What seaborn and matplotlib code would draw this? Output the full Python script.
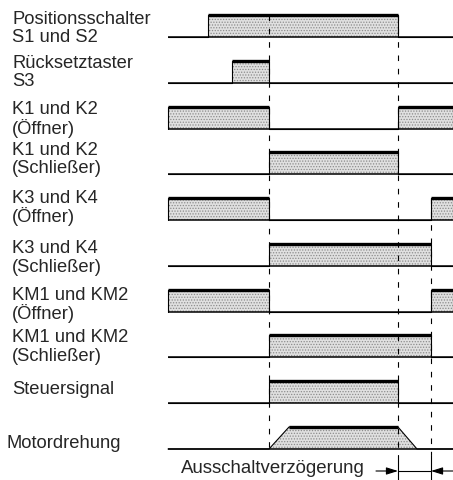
import matplotlib
matplotlib.use("Agg")
import matplotlib.pyplot as plt
import seaborn as sns
import pandas as pd
import numpy as np

# ---------------- data ----------------
labels = [
    "Positionsschalter\nS1 und S2",
    "Rücksetztaster\nS3",
    "K1 und K2\n(Öffner)",
    "K1 und K2\n(Schließer)",
    "K3 und K4\n(Öffner)",
    "K3 und K4\n(Schließer)",
    "KM1 und KM2\n(Öffner)",
    "KM1 und KM2\n(Schließer)",
    "Steuersignal",
    "Motordrehung",
]
t_end = 285
# switching times (time units) for each signal: lists of (on, off)
s1s2_on = [(40, 230)]
s3_on = [(64, 101)]
k1_nc_on = [(0, 101), (230, 285)]
k1_no_on = [(101, 230)]
k3_nc_on = [(0, 101), (263, 285)]
k3_no_on = [(101, 263)]
km_nc_on = [(0, 101), (263, 285)]
km_no_on = [(101, 263)]
steuer_on = [(101, 230)]
motor_t = [0, 101, 121, 230, 249, 285]
motor_level = [0, 0, 1, 1, 0, 0]
event_times = [101, 230, 263]
delay_label = "Ausschaltverzögerung"

pulse_sets = [s1s2_on, s3_on, k1_nc_on, k1_no_on, k3_nc_on,
              k3_no_on, km_nc_on, km_no_on, steuer_on]

# ---------------- layout ----------------
W, H = 453, 481
x0 = 168  # pixel where the time axis starts
row_base = [38, 84, 130, 175, 221, 267, 313, 358, 404, 450]
amp = 22
label_y = [(19, 38), (63, 81), (109.5, 129), (151, 169), (199, 217),
           (249, 268), (296, 314), (338, 357), (389.5,), (444,)]
label_x = [12, 12, 12, 12, 12, 12, 12, 12, 12, 6.5]

sns.set_theme(style="white")
plt.rcParams["font.family"] = ["Liberation Sans", "DejaVu Sans"]
plt.rcParams["hatch.linewidth"] = 0.6

fig = plt.figure(figsize=(W / 100, H / 100), dpi=100)
ax = fig.add_axes([0, 0, 1, 1])
ax.set_xlim(-x0, W - x0)
ax.set_ylim(H, 0)
ax.axis("off")

fill_kw = dict(facecolor="#e0e0e0", edgecolor="#8c8c8c", hatch="......", linewidth=0)

def pulses_to_wave(pulses):
    ts, lv = [0], [0]
    for on, off in pulses:
        ts += [on, on, off, off]
        lv += [0, 1, 1, 0]
    ts.append(t_end); lv.append(0)
    return ts, lv

def draw_wave(ts, lv, base):
    ts = np.array(ts, float)
    y = base - amp * np.array(lv, float)
    ax.fill_between(ts, base, y, zorder=1, **fill_kw)
    df = pd.DataFrame({"t": ts, "y": y})
    # thin outline (edges)
    sns.lineplot(data=df, x="t", y="y", sort=False, estimator=None,
                 color="black", linewidth=0.8, ax=ax, zorder=3)
    # baseline
    ax.plot([0, t_end], [base, base], color="black", lw=1.1, zorder=3,
            solid_capstyle="butt")
    # thick top segments
    lv = np.array(lv)
    for i in range(len(ts) - 1):
        if lv[i] == 1 and lv[i + 1] == 1:
            ax.plot([ts[i], ts[i + 1]], [base - amp, base - amp],
                    color="black", lw=2.4, zorder=4, solid_capstyle="butt")

for pulses, base in zip(pulse_sets, row_base[:9]):
    ts, lv = pulses_to_wave(pulses)
    draw_wave(ts, lv, base)
draw_wave(motor_t, motor_level, row_base[9])

# dashed event lines
dash_kw = dict(color="black", lw=0.8, dashes=(5, 7), zorder=5)
ax.plot([event_times[0]] * 2, [row_base[0] - amp, row_base[9]], **dash_kw)
ax.plot([event_times[1]] * 2, [row_base[0] - amp, 456], **dash_kw)
ax.plot([event_times[2]] * 2, [row_base[4] - amp, 456], **dash_kw)
# extension lines
for t in event_times[1:]:
    ax.plot([t, t], [456, H], color="black", lw=0.8, zorder=5)

# dimension arrows
ya = 472
ax.plot([event_times[1], event_times[2]], [ya, ya], color="black", lw=0.8)
ax.annotate("", xy=(event_times[1], ya), xytext=(event_times[1] - 22, ya),
            arrowprops=dict(arrowstyle="-|>,head_length=0.7,head_width=0.22",
                            color="black", lw=0.8,
                            mutation_scale=10, shrinkA=0, shrinkB=0))
ax.annotate("", xy=(event_times[2], ya), xytext=(t_end + 2, ya),
            arrowprops=dict(arrowstyle="-|>,head_length=0.7,head_width=0.22",
                            color="black", lw=0.8,
                            mutation_scale=10, shrinkA=0, shrinkB=0))
ax.text(181 - x0, 469, delay_label, fontsize=13.4, va="center", ha="left")

# labels
for lab, ys, lx in zip(labels, label_y, label_x):
    for line, yy in zip(lab.split("\n"), ys):
        ax.text(lx - x0, yy, line, fontsize=13.2, va="center", ha="left")

fig.savefig("out.png", dpi=100)
